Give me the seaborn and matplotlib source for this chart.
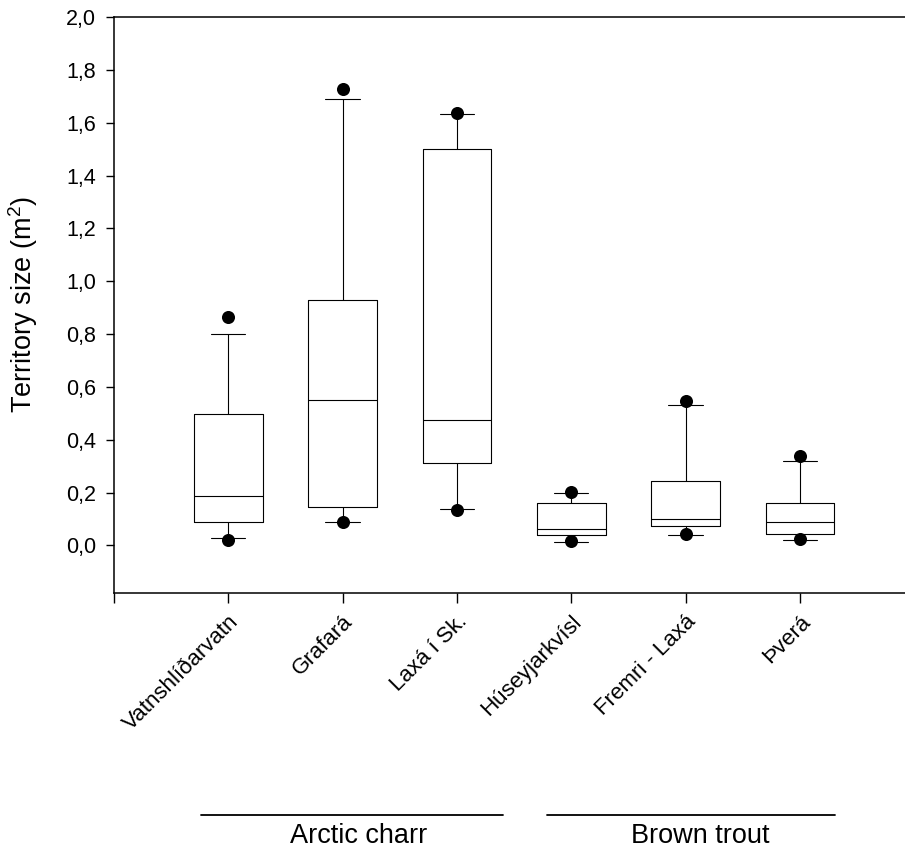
import pandas as pd
import seaborn as sns
import matplotlib.pyplot as plt
from matplotlib.ticker import FuncFormatter
import matplotlib.transforms as mtransforms

sites = ['Vatnshlíðarvatn', 'Grafará', 'Laxá í Sk.', 'Húseyjarkvísl', 'Fremri - Laxá', 'Þverá']
# box stats (10th / 25th / 50th / 75th / 90th percentiles)
p10 = [0.027, 0.088, 0.139, 0.014, 0.040, 0.022]
p25 = [0.090, 0.144, 0.313, 0.038, 0.075, 0.044]
p50 = [0.189, 0.552, 0.476, 0.063, 0.101, 0.087]
p75 = [0.499, 0.930, 1.500, 0.162, 0.245, 0.162]
p90 = [0.800, 1.689, 1.633, 0.197, 0.530, 0.321]
# 5th / 95th percentile dots
p5 = [0.019, 0.087, 0.135, 0.016, 0.043, 0.023]
p95 = [0.865, 1.728, 1.638, 0.202, 0.545, 0.338]

species = ['Arctic charr', 'Brown trout']

# five values per site -> quartiles / min / max reproduce the box stats exactly
boxes = pd.DataFrame({
    'site': sites * 5,
    'size': p10 + p25 + p50 + p75 + p90,
})
dots = pd.DataFrame({'site': sites * 2, 'size': p5 + p95})

sns.set_style('ticks')
plt.rcParams['font.family'] = ['Liberation Sans', 'DejaVu Sans']
plt.rcParams['mathtext.fontset'] = 'custom'
plt.rcParams['mathtext.rm'] = 'Liberation Sans'
plt.rcParams['mathtext.it'] = 'Liberation Sans:italic'
for k in ['text.color', 'axes.labelcolor', 'xtick.color', 'ytick.color', 'axes.edgecolor']:
    plt.rcParams[k] = 'black'

fig = plt.figure(figsize=(9.05, 8.52), dpi=100)
ax = fig.add_axes([114 / 905, 1 - 593 / 852, 791 / 905, 576 / 852])

sns.boxplot(data=boxes, x='site', y='size', order=sites, whis=(0, 100),
            width=0.6, fill=False, color='black', linewidth=0.8, ax=ax)
sns.stripplot(data=dots, x='site', y='size', order=sites, jitter=False,
              color='black', size=9.4, linewidth=0, ax=ax, zorder=5)

ax.set_xlim(-1, 5.92)
ax.set_ylim(-0.18, 2.0)
ax.set_yticks([i * 0.2 for i in range(11)])
ax.yaxis.set_major_formatter(FuncFormatter(lambda v, p: f'{v:.1f}'.replace('.', ',')))
ax.set_xticks(range(-1, 6))
ax.set_xticklabels([''] + sites, rotation=45, ha='right', va='top',
                   rotation_mode='anchor', fontsize=16)
ax.tick_params(axis='y', labelsize=15.5, length=6, width=1, direction='out', pad=7)
ax.tick_params(axis='x', length=7, width=1, direction='out', pad=6)
ax.set_xlabel('')
ax.set_ylabel('Territory size (m$^2$)', fontsize=19.5)
ax.yaxis.set_label_coords(-0.094, 0.5)

for side in ['left', 'top', 'bottom']:
    ax.spines[side].set_linewidth(1.1)
ax.spines['right'].set_visible(False)

# species grouping lines below the axis
trans = mtransforms.blended_transform_factory(ax.transData, fig.transFigure)
ax.plot([-0.239, 2.403], [0.0434, 0.0434], color='black', lw=1.3,
        transform=trans, clip_on=False)
ax.plot([2.79, 5.31], [0.0434, 0.0434], color='black', lw=1.3,
        transform=trans, clip_on=False)
ax.text(1.137, 0.019, species[0], transform=trans, ha='center', va='center', fontsize=19.5)
ax.text(4.13, 0.019, species[1], transform=trans, ha='center', va='center', fontsize=19.5)

plt.savefig('out.png', dpi=100)
